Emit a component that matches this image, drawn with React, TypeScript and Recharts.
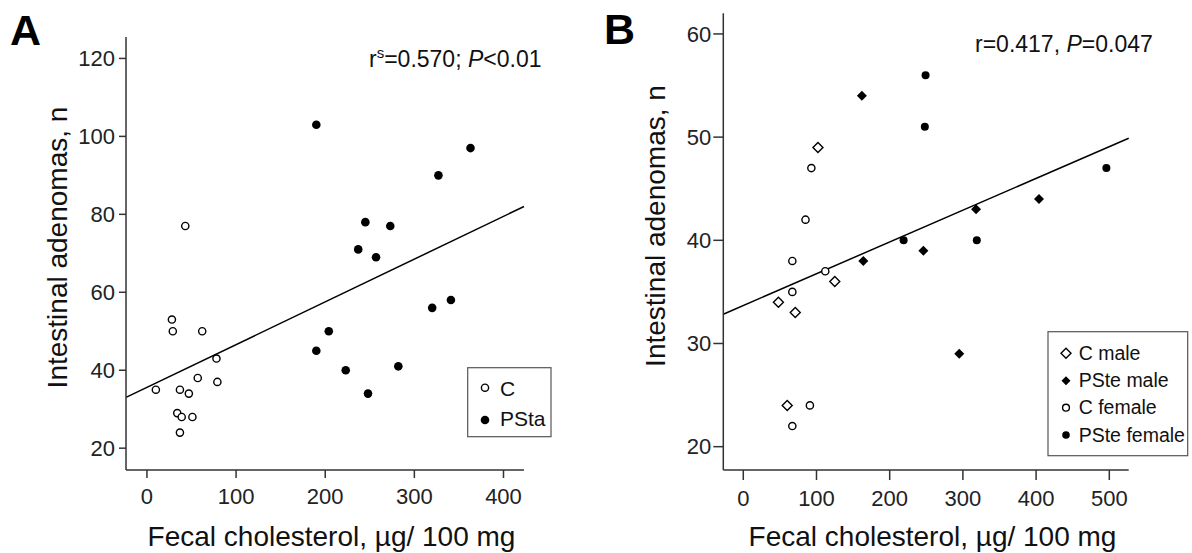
import { ScatterChart, Scatter, XAxis, YAxis, ReferenceLine } from 'recharts'

// panel A: fecal cholesterol vs adenomas, C and PSta groups
const A_X_TICKS = [0, 100, 200, 300, 400]
const A_Y_TICKS = [20, 40, 60, 80, 100, 120]
const A_C_X = [10, 28, 29, 62, 78, 57, 79, 37, 47, 34, 39, 51, 37, 43]
const A_C_Y = [35, 53, 50, 50, 43, 38, 37, 35, 34, 29, 28, 28, 24, 77]
const A_PSTA_X = [190, 363, 327, 245, 273, 237, 257, 341, 320, 204, 190, 223, 282, 248]
const A_PSTA_Y = [103, 97, 90, 78, 77, 71, 69, 58, 56, 50, 45, 40, 41, 34]
const A_FIT_INTERCEPT = 35.6
const A_FIT_SLOPE = 0.1097

// panel B: same axes, split by sex
const B_X_TICKS = [0, 100, 200, 300, 400, 500]
const B_Y_TICKS = [20, 30, 40, 50, 60]
const B_CM_X = [102, 48, 71, 125, 60]
const B_CM_Y = [49, 34, 33, 36, 24]
const B_PM_X = [162, 164, 318, 404, 246, 295]
const B_PM_Y = [54, 38, 43, 44, 39, 29]
const B_CF_X = [93, 85, 67, 112, 67, 91, 67]
const B_CF_Y = [47, 42, 38, 37, 35, 24, 22]
const B_PF_X = [249, 248, 496, 219, 319]
const B_PF_Y = [56, 51, 47, 40, 40]
const B_FIT_INTERCEPT = 33.68
const B_FIT_SLOPE = 0.0308

const FONT = '"Liberation Sans", Arial, sans-serif'
const AXIS = '#333'

const pts = (xs: number[], ys: number[]) => xs.map((x, i) => ({ x, y: ys[i] }))

const openCircle = (p: any) => (
  <circle cx={p.cx} cy={p.cy} r={3.6} fill="#fff" stroke="#000" strokeWidth={1.4} />
)
const dot = (r: number) => (p: any) => <circle cx={p.cx} cy={p.cy} r={r} fill="#000" />
const diamondPts = (cx: number, cy: number, d: number) =>
  `${cx},${cy - d} ${cx + d},${cy} ${cx},${cy + d} ${cx - d},${cy}`
const openDiamond = (p: any) => (
  <polygon points={diamondPts(p.cx, p.cy, 5)} fill="#fff" stroke="#000" strokeWidth={1.4} />
)
const filledDiamond = (p: any) => <polygon points={diamondPts(p.cx, p.cy, 5)} fill="#000" />

const tickStyle = { fill: '#222', fontSize: 22, fontFamily: FONT }

function PanelA() {
  const dom: [number, number] = [-23.5, 423]
  return (
    <ScatterChart width={560} height={553} margin={{ top: 37, right: 36, bottom: 53, left: 66 }}>
      <XAxis
        type="number"
        dataKey="x"
        domain={dom}
        ticks={A_X_TICKS}
        allowDataOverflow
        height={30}
        tickSize={8}
        tickMargin={10}
        tick={tickStyle}
        axisLine={{ stroke: AXIS, strokeWidth: 1.5 }}
        tickLine={{ stroke: AXIS, strokeWidth: 1.5 }}
      />
      <YAxis
        type="number"
        dataKey="y"
        domain={[14.4, 125.5]}
        ticks={A_Y_TICKS}
        allowDataOverflow
        width={60}
        tickSize={7}
        tickMargin={4}
        tick={tickStyle}
        axisLine={{ stroke: AXIS, strokeWidth: 1.5 }}
        tickLine={{ stroke: AXIS, strokeWidth: 1.5 }}
      />
      <ReferenceLine
        ifOverflow="visible"
        stroke="#000"
        strokeWidth={1.5}
        segment={[
          { x: dom[0], y: A_FIT_INTERCEPT + A_FIT_SLOPE * dom[0] },
          { x: dom[1], y: A_FIT_INTERCEPT + A_FIT_SLOPE * dom[1] },
        ]}
      />
      <Scatter data={pts(A_C_X, A_C_Y)} shape={openCircle} isAnimationActive={false} />
      <Scatter data={pts(A_PSTA_X, A_PSTA_Y)} shape={dot(4.3)} isAnimationActive={false} />
    </ScatterChart>
  )
}

function PanelB() {
  const dom: [number, number] = [-27.3, 526.5]
  return (
    <ScatterChart width={592} height={553} margin={{ top: 13.3, right: 63.3, bottom: 53, left: 63.3 }}>
      <XAxis
        type="number"
        dataKey="x"
        domain={dom}
        ticks={B_X_TICKS}
        allowDataOverflow
        height={30}
        tickSize={10}
        tickMargin={10}
        tick={tickStyle}
        axisLine={{ stroke: AXIS, strokeWidth: 1.5 }}
        tickLine={{ stroke: AXIS, strokeWidth: 1.5 }}
      />
      <YAxis
        type="number"
        dataKey="y"
        domain={[17.74, 62]}
        ticks={B_Y_TICKS}
        allowDataOverflow
        width={60}
        tickSize={10}
        tickMargin={2}
        tick={tickStyle}
        axisLine={{ stroke: AXIS, strokeWidth: 1.5 }}
        tickLine={{ stroke: AXIS, strokeWidth: 1.5 }}
      />
      <ReferenceLine
        ifOverflow="visible"
        stroke="#000"
        strokeWidth={1.5}
        segment={[
          { x: dom[0], y: B_FIT_INTERCEPT + B_FIT_SLOPE * dom[0] },
          { x: dom[1], y: B_FIT_INTERCEPT + B_FIT_SLOPE * dom[1] },
        ]}
      />
      <Scatter data={pts(B_CM_X, B_CM_Y)} shape={openDiamond} isAnimationActive={false} />
      <Scatter data={pts(B_PM_X, B_PM_Y)} shape={filledDiamond} isAnimationActive={false} />
      <Scatter data={pts(B_CF_X, B_CF_Y)} shape={openCircle} isAnimationActive={false} />
      <Scatter data={pts(B_PF_X, B_PF_Y)} shape={dot(4)} isAnimationActive={false} />
    </ScatterChart>
  )
}

function Overlay() {
  const yTitle = 'Intestinal adenomas, n'
  const xTitle = 'Fecal cholesterol, \u00b5g/ 100 mg'
  return (
    <svg
      width={1192}
      height={553}
      style={{ position: 'absolute', left: 0, top: 0, pointerEvents: 'none' }}
      fontFamily={FONT}
      fill="#111"
    >
      <text x={10} y={45} fontSize={43} fontWeight="bold" fill="#000">A</text>
      <text x={604} y={43.5} fontSize={43} fontWeight="bold" fill="#000">B</text>

      <text transform="translate(67,247.5) rotate(-90)" textAnchor="middle" fontSize={28}>{yTitle}</text>
      <text transform="translate(665,226) rotate(-90)" textAnchor="middle" fontSize={28}>{yTitle}</text>
      <text x={331.5} y={546} textAnchor="middle" fontSize={28}>{xTitle}</text>
      <text x={932.5} y={546} textAnchor="middle" fontSize={28}>{xTitle}</text>

      <text x={369} y={66.5} fontSize={23}>
        r<tspan dy={-9} fontSize={15}>s</tspan>
        <tspan dy={9}>=0.570; </tspan>
        <tspan fontStyle="italic">P</tspan>&lt;0.01
      </text>
      <text x={975} y={51.5} fontSize={23}>
        r=0.417, <tspan fontStyle="italic">P</tspan>=0.047
      </text>

      {/* legend A */}
      <rect x={467.7} y={367.7} width={83.3} height={69} fill="#fff" stroke="#555" strokeWidth={1.2} />
      <circle cx={485} cy={387.7} r={3.6} fill="#fff" stroke="#000" strokeWidth={1.4} />
      <text x={500} y={396} fontSize={21}>C</text>
      <circle cx={485} cy={420} r={4.3} fill="#000" />
      <text x={500} y={426} fontSize={21}>PSta</text>

      {/* legend B */}
      <rect x={1048} y={331.7} width={139.7} height={124} fill="#fff" stroke="#555" strokeWidth={1.2} />
      <polygon points={diamondPts(1066, 353.3, 5)} fill="#fff" stroke="#000" strokeWidth={1.4} />
      <text x={1078.7} y={360} fontSize={19.5}>C male</text>
      <polygon points={diamondPts(1066, 380.7, 4.5)} fill="#000" />
      <text x={1078.7} y={387.3} fontSize={19.5}>PSte male</text>
      <circle cx={1066} cy={407.7} r={3.4} fill="#fff" stroke="#000" strokeWidth={1.4} />
      <text x={1078.7} y={414.3} fontSize={19.5}>C female</text>
      <circle cx={1066} cy={435} r={3.8} fill="#000" />
      <text x={1078.7} y={441.7} fontSize={19.5}>PSte female</text>
    </svg>
  )
}

export default function App() {
  return (
    <div style={{ position: 'absolute', left: 0, top: 0, width: 1192, height: 553, background: '#fff', fontFamily: FONT }}>
      <div style={{ position: 'absolute', left: 0, top: 0 }}>
        <PanelA />
      </div>
      <div style={{ position: 'absolute', left: 600, top: 0 }}>
        <PanelB />
      </div>
      <Overlay />
    </div>
  )
}
